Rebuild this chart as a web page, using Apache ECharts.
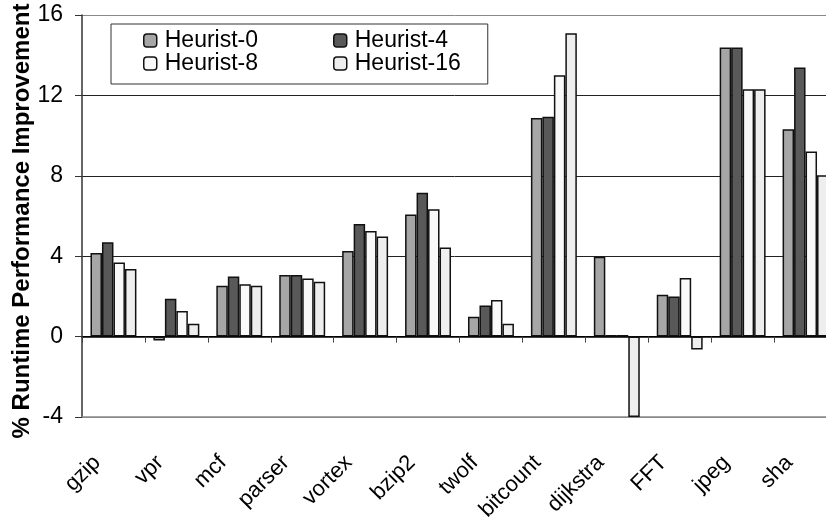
<!DOCTYPE html>
<html>
<head>
<meta charset="utf-8">
<script src="https://cdn.jsdelivr.net/npm/echarts@6/dist/echarts.min.js"></script>
<style>html,body{margin:0;padding:0;background:#fff}#c{width:826px;height:519px}</style>
</head>
<body>
<div id="c"></div>
<script>
var categories = ['gzip','vpr','mcf','parser','vortex','bzip2','twolf','bitcount','dijkstra','FFT','jpeg','sha'];
var seriesNames = ['Heurist-0','Heurist-4','Heurist-8','Heurist-16'];
var heurist0  = [4.16, -0.2, 2.53, 3.07, 4.26, 6.07, 0.99, 10.88, 3.97, 2.08, 14.38, 10.31];
var heurist4  = [4.69, 1.88, 2.99, 3.07, 5.60, 7.16, 1.55, 10.94, 0.08, 2.00, 14.38, 13.39];
var heurist8  = [3.69, 1.27, 2.61, 2.89, 5.25, 6.33, 1.82, 13.00, 0.08, 2.91, 12.30, 9.21];
var heurist16 = [3.36, 0.64, 2.53, 2.73, 4.98, 4.43, 0.64, 15.09, -4.0, -0.64, 12.30, 8.03];
var yTicks = [-4, 0, 4, 8, 12, 16];

var colors = ['#a6a6a6', '#595959', '#f9f9f9', '#eeeeee'];
var values = [heurist0, heurist4, heurist8, heurist16];
var FONT = 'Liberation Sans, Arial, sans-serif';

var series = seriesNames.map(function (n, i) {
  return {
    name: n, type: 'bar', xAxisIndex: 0, data: values[i],
    barGap: 0, barCategoryGap: '27%',
    itemStyle: { color: colors[i], borderColor: '#111', borderWidth: 1.5 },
    emphasis: { disabled: true }
  };
});

var chart = echarts.init(document.getElementById('c'), null, { renderer: 'canvas' });
chart.setOption({
  animation: false,
  backgroundColor: '#fff',
  textStyle: { fontFamily: FONT },
  grid: { left: 82, right: -11, top: 15, bottom: 102, containLabel: false, outerBoundsMode: 'none' },
  legend: [
    {
      data: [seriesNames[0], seriesNames[2]],
      orient: 'vertical', left: 111, top: 24,
      padding: [5, 223, 9, 32],
      itemWidth: 13, itemHeight: 13, itemGap: 0,
      borderColor: '#333', borderWidth: 1, backgroundColor: '#fff',
      textStyle: { fontFamily: FONT, fontSize: 23, color: '#000', width: 100, lineHeight: 22, padding: [0, 0, 0, 3] },
      itemStyle: { borderColor: '#111', borderWidth: 1.5 }
    },
    {
      data: [seriesNames[1], seriesNames[3]],
      orient: 'vertical', left: 333, top: 29,
      padding: 0,
      itemWidth: 13, itemHeight: 13, itemGap: 0,
      textStyle: { fontFamily: FONT, fontSize: 23, color: '#000', width: 110, lineHeight: 22, padding: [0, 0, 0, 3] },
      itemStyle: { borderColor: '#111', borderWidth: 1.5 }
    }
  ],
  xAxis: [
    {
      type: 'category', data: categories, position: 'top',
      axisLine: { onZero: true, lineStyle: { color: '#000', width: 1.5 } },
      axisTick: { show: true, inside: true, length: 6, lineStyle: { color: '#444', width: 1 } },
      axisLabel: { show: false },
      splitLine: { show: false }
    },
    {
      type: 'category', data: categories, position: 'bottom',
      axisLine: { onZero: false, lineStyle: { color: '#888', width: 1.5 } },
      axisTick: { show: false },
      axisLabel: { show: true, rotate: 45, margin: 26, padding: [0, 23, 0, 0], fontSize: 22, fontFamily: FONT, color: '#000', interval: 0 },
      splitLine: { show: false }
    }
  ],
  yAxis: {
    type: 'value', min: yTicks[0], max: yTicks[yTicks.length - 1], interval: 4,
    name: '% Runtime Performance Improvement', nameLocation: 'middle', nameGap: 48,
    nameMoveOverlap: false,
    nameTextStyle: { fontFamily: FONT, fontSize: 24, fontWeight: 'bold', color: '#000', padding: [0, 10, 0, 0] },
    axisLine: { show: true, lineStyle: { color: '#333', width: 1.5 } },
    axisTick: { show: true, length: 7, lineStyle: { color: '#333', width: 1 } },
    axisLabel: { fontSize: 23, fontFamily: FONT, color: '#000', margin: 19 },
    splitLine: { show: true, lineStyle: { color: ['#888', '#000', '#222', '#222', '#222', '#888'], width: 1 } }
  },
  series: series
});
</script>
</body>
</html>
